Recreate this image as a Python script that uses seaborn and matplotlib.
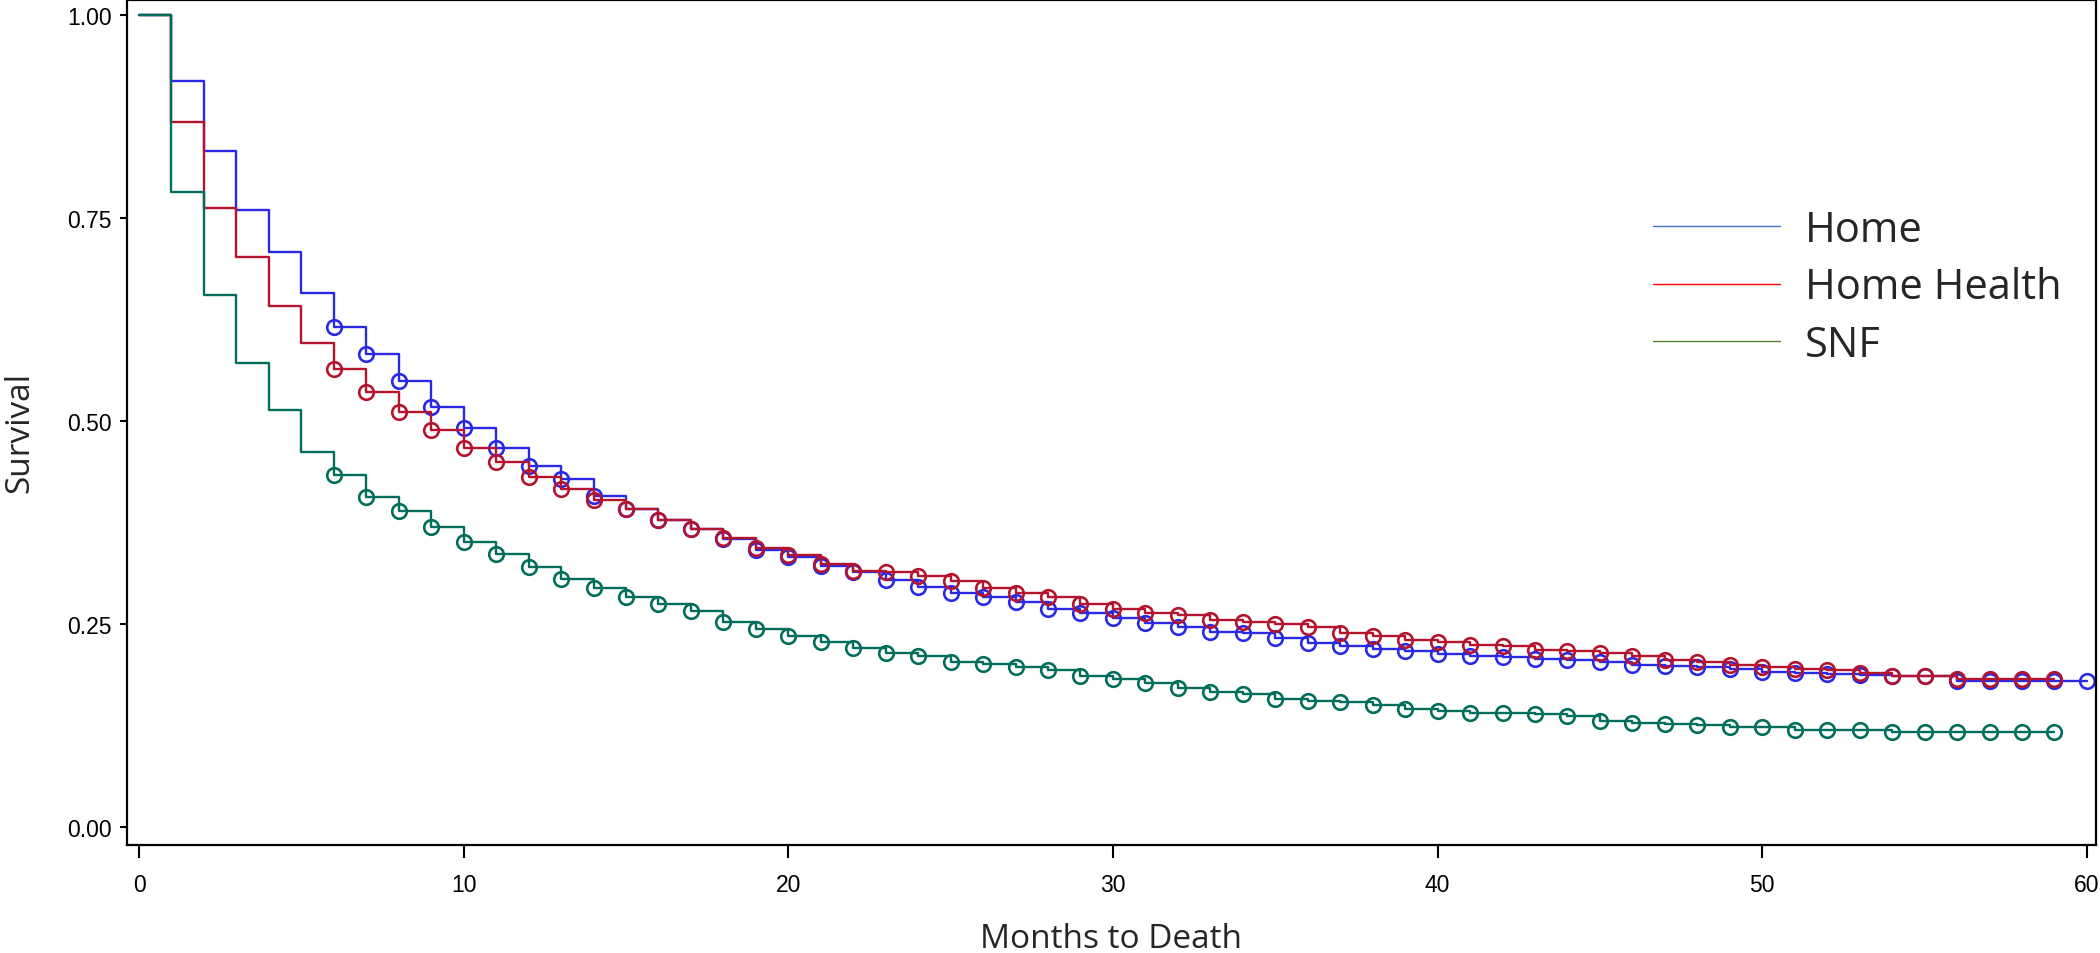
import numpy as np
import pandas as pd
import matplotlib
matplotlib.use("Agg")
import matplotlib.pyplot as plt
from matplotlib.lines import Line2D
import seaborn as sns

# ---------------- data ----------------
groups = ["Home", "Home Health", "SNF"]

months_home = list(range(0, 61))
surv_home = [1.000, 0.919, 0.833, 0.760, 0.708, 0.658, 0.616, 0.583, 0.550, 0.517,
             0.492, 0.467, 0.445, 0.429, 0.408, 0.392, 0.378, 0.367, 0.355, 0.342,
             0.333, 0.322, 0.314, 0.305, 0.296, 0.288, 0.283, 0.277, 0.269, 0.264,
             0.258, 0.252, 0.247, 0.241, 0.239, 0.233, 0.227, 0.223, 0.220, 0.217,
             0.213, 0.211, 0.209, 0.207, 0.206, 0.203, 0.200, 0.199, 0.197, 0.195,
             0.191, 0.190, 0.189, 0.188, 0.186, 0.186, 0.180, 0.180, 0.180, 0.180,
             0.180]

months_hh = list(range(0, 60))
surv_hh = [1.000, 0.869, 0.763, 0.702, 0.642, 0.597, 0.564, 0.536, 0.511, 0.489,
           0.467, 0.450, 0.431, 0.417, 0.403, 0.392, 0.379, 0.367, 0.356, 0.344,
           0.335, 0.324, 0.316, 0.314, 0.309, 0.303, 0.294, 0.288, 0.283, 0.275,
           0.269, 0.264, 0.261, 0.255, 0.253, 0.250, 0.247, 0.239, 0.236, 0.231,
           0.228, 0.225, 0.223, 0.218, 0.217, 0.215, 0.211, 0.206, 0.203, 0.200,
           0.197, 0.195, 0.193, 0.190, 0.186, 0.186, 0.183, 0.183, 0.183, 0.183]

months_snf = list(range(0, 60))
surv_snf = [1.000, 0.783, 0.655, 0.572, 0.514, 0.462, 0.434, 0.407, 0.390, 0.370,
            0.351, 0.336, 0.321, 0.306, 0.295, 0.284, 0.275, 0.266, 0.253, 0.244,
            0.236, 0.228, 0.221, 0.214, 0.211, 0.203, 0.201, 0.197, 0.194, 0.186,
            0.182, 0.177, 0.172, 0.167, 0.164, 0.158, 0.156, 0.154, 0.150, 0.145,
            0.143, 0.141, 0.141, 0.140, 0.137, 0.131, 0.128, 0.127, 0.126, 0.123,
            0.123, 0.120, 0.120, 0.120, 0.117, 0.117, 0.117, 0.117, 0.117, 0.117]

censor_start = 6  # censor marks from month 6 onward

x_ticks = [0, 10, 20, 30, 40, 50, 60]
y_ticks = [0.00, 0.25, 0.50, 0.75, 1.00]
y_tick_labels = ["0.00", "0.25", "0.50", "0.75", "1.00"]

# ---------------- styling ----------------
line_colors = {"Home": "#2a2ae6", "Home Health": "#b5142d", "SNF": "#006e5a"}
legend_colors = {"Home": "#4472c4", "Home Health": "#ff0000", "SNF": "#548235"}

sns.set_theme(style="white")
plt.rcParams["font.family"] = ["Liberation Sans Narrow", "Liberation Sans", "DejaVu Sans"]

W, H = 2100, 954
fig = plt.figure(figsize=(W / 100, H / 100), dpi=100)
ax = fig.add_axes([127 / W, 1 - 846 / H, (2096 - 127) / W, (846 - 1) / H])

series = [("Home", months_home, surv_home),
          ("Home Health", months_hh, surv_hh),
          ("SNF", months_snf, surv_snf)]

for name, mo, sv in series:
    df = pd.DataFrame({"month": mo, "survival": sv})
    c = line_colors[name]
    sns.lineplot(data=df, x="month", y="survival", ax=ax, color=c,
                 drawstyle="steps-post", estimator=None, sort=False,
                 lw=1.7, marker="o", markevery=slice(censor_start, None),
                 mfc="none", mec=c, ms=10.5, mew=1.9, legend=False)

ax.set_xlim(-0.37, 60.28)
ax.set_ylim(-0.022, 1.019)
ax.set_xticks(x_ticks)
ax.set_xticklabels([str(t) for t in x_ticks])
ax.set_yticks(y_ticks)
ax.set_yticklabels(y_tick_labels)

for s in ax.spines.values():
    s.set_visible(True)
    s.set_color("black")
    s.set_linewidth(1.6)

ax.tick_params(axis="x", which="major", direction="out", length=9.5, width=1.5,
               color="black", pad=11, labelsize=16.5, labelcolor="black", bottom=True)
ax.tick_params(axis="y", which="major", direction="out", length=5, width=1.5,
               color="black", pad=6, labelsize=16.5, labelcolor="black", left=True)

lab_font = {"family": ["Open Sans", "DejaVu Sans"], "size": 24}
ax.set_xlabel("Months to Death", fontdict=lab_font)
ax.set_ylabel("Survival", fontdict=lab_font)
ax.xaxis.set_label_coords(0.5, -0.091)
ax.yaxis.set_label_coords(-0.046, 0.49)

handles = [Line2D([0], [0], color=legend_colors[g], lw=1.0) for g in groups]
leg = ax.legend(handles, groups, loc="upper left",
                bbox_to_anchor=(1653 / W, 1 - 210 / H), bbox_transform=fig.transFigure,
                frameon=False, prop={"family": ["Open Sans", "DejaVu Sans"], "size": 30},
                handlelength=3.05, handletextpad=0.6, labelspacing=0.37,
                borderpad=0, borderaxespad=0)

fig.savefig("out.png", dpi=100, facecolor="white")
